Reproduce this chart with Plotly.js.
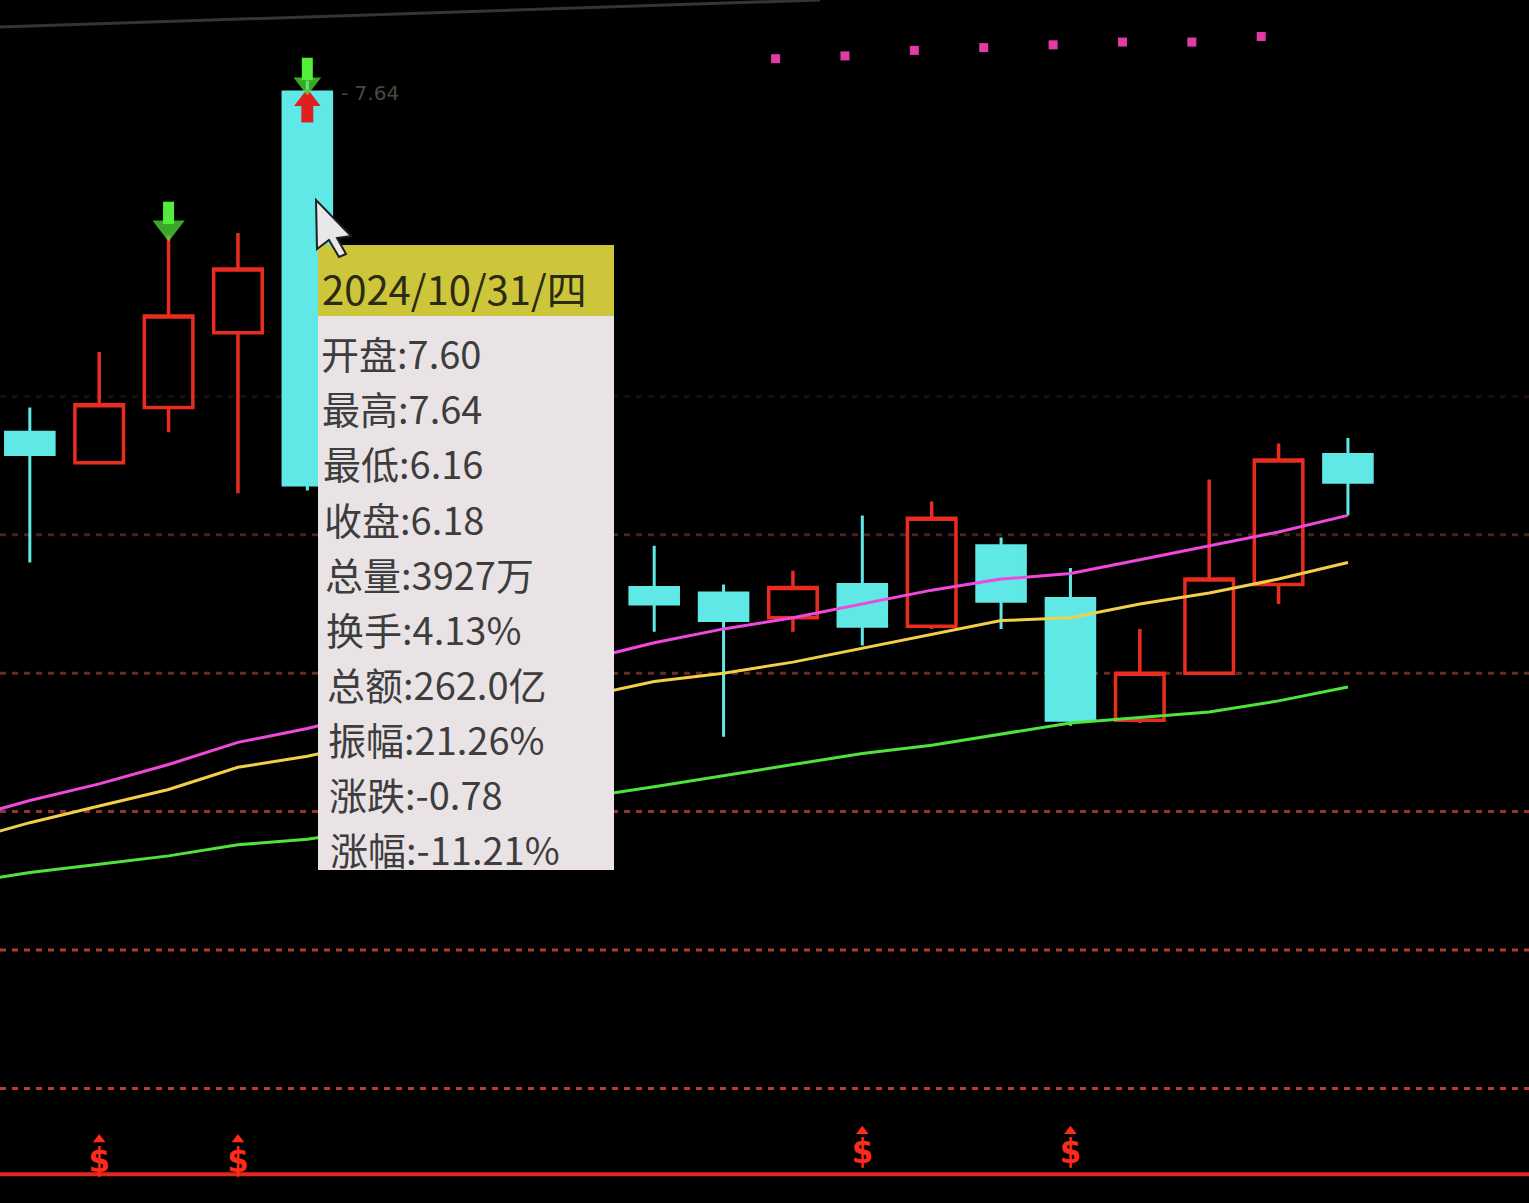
<!DOCTYPE html>
<html>
<head>
<meta charset="utf-8">
<script src="https://cdn.plot.ly/plotly-3.0.1.min.js"></script>
<style>
html,body{margin:0;padding:0;background:#000;overflow:hidden;}
#chart{width:1529px;height:1203px;}
</style>
</head>
<body>
<div id="chart"></div>
<script>
// ---------------- data ----------------
const dates = ['2024-10-24','2024-10-25','2024-10-28','2024-10-29','2024-10-30','2024-10-31',
  '2024-11-01','2024-11-04','2024-11-05','2024-11-06','2024-11-07','2024-11-08','2024-11-11',
  '2024-11-12','2024-11-13','2024-11-14','2024-11-15','2024-11-18','2024-11-19','2024-11-20','2024-11-21'];
const openP  = [null,6.37,6.26,6.46,6.73,7.60,null,null,null,null,5.81,5.79,5.70,5.82,5.67,5.96,5.77,5.33,5.50,5.82,6.29];
const highP  = [null,6.46,6.66,7.08,7.09,7.64,null,null,null,null,5.96,5.82,5.87,6.07,6.12,5.99,5.88,5.66,6.20,6.33,6.35];
const lowP   = [null,5.90,6.26,6.37,6.15,6.16,null,null,null,null,5.65,5.27,5.65,5.60,5.66,5.66,5.31,5.32,5.50,5.75,6.07];
const closeP = [null,6.29,6.47,6.79,6.96,6.18,null,null,null,null,5.75,5.69,5.81,5.67,6.06,5.76,5.33,5.50,5.84,6.27,6.19];

const maPink   = [4.97,5.04,5.10,5.17,5.25,5.30,null,null,null,null,5.61,5.66,5.70,5.75,5.80,5.84,5.86,5.91,5.96,6.01,6.07];
const maYellow = [4.89,4.96,5.02,5.08,5.16,5.20,null,null,null,null,5.47,5.50,5.54,5.59,5.64,5.69,5.70,5.75,5.79,5.84,5.90];
const maGreen  = [4.74,4.78,4.81,4.84,4.88,4.90,null,null,null,null,5.09,5.13,5.17,5.21,5.24,5.28,5.32,5.34,5.36,5.40,5.45];

const topDotDates  = ['2024-11-11','2024-11-12','2024-11-13','2024-11-14','2024-11-15','2024-11-18','2024-11-19','2024-11-20'];
const topDotValues = [7.72,7.73,7.75,7.76,7.77,7.78,7.78,7.80];

const dollarDates  = ['2024-10-28','2024-10-30','2024-11-12','2024-11-15'];
const dollarValues = [3.73,3.73,3.76,3.76];

const downArrowDates  = ['2024-10-29','2024-10-31'];
const downArrowValues = [7.11,7.63];
const upArrowDates  = ['2024-10-31'];
const upArrowValues = [7.57];

const gridLevels = [6.5,6.0,5.5,5.0,4.5,4.0];
const baseLevel = 3.69;

const tipDay = '2024-10-31';
const tipTitle = '2024/10/31/四';
const tipLabels = ['开盘','最高','最低','收盘','总量','换手','总额','振幅','涨跌','涨幅'];
const tipExtra = ['3927万','4.13%','262.0亿','21.26%','-0.78','-11.21%'];

// ---------------- helpers ----------------
const W = 1529, H = 1203;
const xi = d => dates.indexOf(d);
const px = (x) => x / W;
const py = (y) => 1 - y / H;

const cIdx = [];
dates.forEach((d,i)=>{ if(openP[i]!==null) cIdx.push(i); });

const RED = '#ea2b1f', CYAN = '#5fe8e6';
const GREEN_ARROW = '#52ee3a';

const traces = [];
traces.push({
  type:'candlestick',
  x: cIdx, open: cIdx.map(i=>openP[i]), high: cIdx.map(i=>highP[i]),
  low: cIdx.map(i=>lowP[i]), close: cIdx.map(i=>closeP[i]),
  increasing:{line:{color:RED,width:3.5}, fillcolor:'rgba(0,0,0,0)'},
  decreasing:{line:{color:CYAN,width:3}, fillcolor:CYAN},
  whiskerwidth:0, hoverinfo:'none'
});
const xsAll = dates.map((d,i)=>i);
[[maGreen,'#4fe43c'],[maYellow,'#f2cf48'],[maPink,'#f048dc']].forEach(([arr,col])=>{
  traces.push({type:'scatter', mode:'lines', x:xsAll, y:arr, connectgaps:true,
    line:{color:col,width:3}, hoverinfo:'none'});
});
// top magenta dots
traces.push({type:'scatter', mode:'markers', x: topDotDates.map(d=>xi(d)-0.25), y: topDotValues,
  marker:{symbol:'square', size:9, color:'#e43aa8'}, hoverinfo:'none'});
// red up arrow (stem + head)
traces.push({type:'scatter', mode:'markers', x: upArrowDates.map(xi), y: upArrowValues.map(v=>v-0.045),
  marker:{symbol:'line-ns', size:14, color:'#e02020', line:{color:'#e02020', width:12}}, hoverinfo:'none'});
traces.push({type:'scatter', mode:'markers', x: upArrowDates.map(xi), y: upArrowValues,
  marker:{symbol:'triangle-up', size:23, color:'#e02020', line:{width:0}}, hoverinfo:'none'});
// green down arrows
traces.push({type:'scatter', mode:'markers', x: downArrowDates.map(xi), y: downArrowValues.map(v=>v+0.053),
  marker:{symbol:'line-ns', size:16, color:GREEN_ARROW, line:{color:GREEN_ARROW, width:11}}, hoverinfo:'none'});
traces.push({type:'scatter', mode:'markers', x: downArrowDates.map(xi), y: downArrowValues,
  marker:{symbol:'triangle-down', size:[28,24], color:GREEN_ARROW, line:{width:0}}, hoverinfo:'none'});
// dollar signals
traces.push({type:'scatter', mode:'markers', x: dollarDates.map(xi), y: dollarValues.map(v=>v+0.085),
  marker:{symbol:'triangle-up', size:11, color:'#ff2a1a', line:{width:0}}, hoverinfo:'none'});
traces.push({type:'scatter', mode:'text', x: dollarDates.map(xi), y: dollarValues, text: dollarDates.map(()=>'$'),
  textposition:'middle center', textfont:{family:'DejaVu Sans Condensed, DejaVu Sans', size:34, color:'#ff2a1a', weight:'bold'}, hoverinfo:'none'});

// ---------------- shapes ----------------
const gridCols = ['#1c0d0b','#4a241c','#6a2d23','#93352a','#b23a30','#b83c32'];
const shapes = gridLevels.map((v,k)=>({type:'line', xref:'paper', yref:'y', x0:0, x1:1, y0:v, y1:v,
  line:{color:gridCols[k], width:3, dash:'6px,6px'}, layer:'below'}));
shapes.push({type:'line', xref:'paper', yref:'y', x0:0, x1:1, y0:baseLevel, y1:baseLevel,
  line:{color:'#e0281e', width:4}, layer:'below'});
shapes.push({type:'line', xref:'paper', yref:'paper', x0:0, y0:py(27), x1:px(820), y1:py(0),
  line:{color:'#343436', width:3}, layer:'below'});
// tooltip box
const tipL = 318, tipR = 614, tipT = 245, tipHb = 316, tipB = 870;
shapes.push({type:'rect', xref:'paper', yref:'paper', x0:px(tipL), x1:px(tipR), y0:py(tipB), y1:py(tipT),
  fillcolor:'#e9e3e6', line:{width:0}, layer:'above'});
shapes.push({type:'rect', xref:'paper', yref:'paper', x0:px(tipL), x1:px(tipR), y0:py(tipHb), y1:py(tipT),
  fillcolor:'#cdc63a', line:{width:0}, layer:'above'});
// mouse cursor
const cur = [[316,200],[317,249],[329,240],[339,257],[346,254],[337,238],[351,236]];
shapes.push({type:'path', xref:'paper', yref:'paper',
  path: 'M' + cur.map(p=>px(p[0])+','+py(p[1])).join(' L') + ' Z',
  fillcolor:'#e8e8ea', line:{color:'#202020', width:2}, layer:'above'});

// ---------------- annotations ----------------
const ti = xi(tipDay);
const tipValues = [openP[ti],highP[ti],lowP[ti],closeP[ti]].map(v=>v.toFixed(2)).concat(tipExtra);
const annotations = [];
annotations.push({xref:'paper', yref:'paper', x:px(320), y:py(288), xanchor:'left', yanchor:'middle',
  text: tipTitle, showarrow:false, font:{family:'Noto Sans CJK SC', size:40, color:'#2b2a14'}});
tipLabels.forEach((lab,k)=>{
  annotations.push({xref:'paper', yref:'paper', x:px(319 + k*1.0), y:py(353 + k*55), xanchor:'left', yanchor:'middle',
    text: lab + ':' + tipValues[k], showarrow:false,
    font:{family:'Noto Sans CJK SC', size:38, color:'#3d3d3d'}});
});
annotations.push({x: ti + 0.45, y: highP[ti], yshift:-12, xanchor:'left', yanchor:'middle', showarrow:false,
  text:'- ' + highP[ti].toFixed(2), font:{family:'DejaVu Sans', size:20, color:'#4a4940'}});

const layout = {
  width:W, height:H, margin:{l:0,r:0,t:0,b:0},
  paper_bgcolor:'#000', plot_bgcolor:'#000', showlegend:false,
  boxgap:0.3, boxgroupgap:0,
  xaxis:{range:[0.57,22.61], visible:false, showgrid:false, zeroline:false, rangeslider:{visible:false}, fixedrange:true},
  yaxis:{range:[3.586,7.932], visible:false, showgrid:false, zeroline:false, fixedrange:true},
  shapes: shapes, annotations: annotations,
  hovermode:false
};
Plotly.newPlot('chart', traces, layout, {staticPlot:true, displayModeBar:false});
</script>
</body>
</html>
